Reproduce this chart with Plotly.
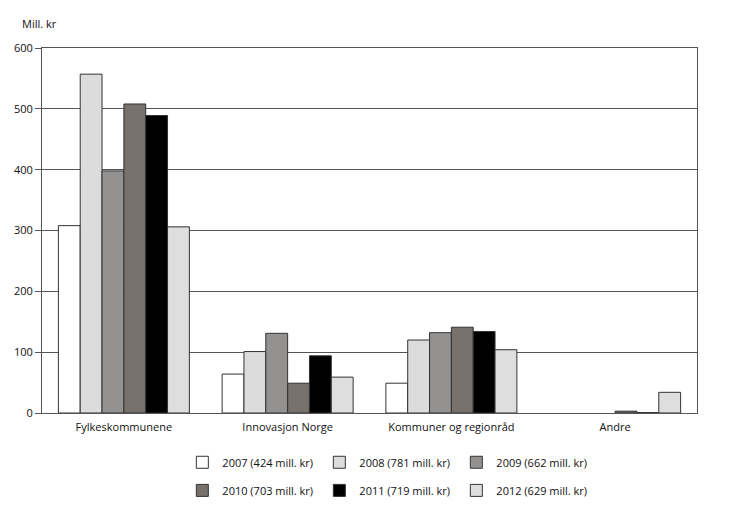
import plotly.graph_objects as go

categories = ["Fylkeskommunene", "Innovasjon Norge", "Kommuner og regionråd", "Andre"]

years = [
    "2007 (424 mill. kr)",
    "2008 (781 mill. kr)",
    "2009 (662 mill. kr)",
    "2010 (703 mill. kr)",
    "2011 (719 mill. kr)",
    "2012 (629 mill. kr)",
]

# None = no bar drawn for that category
v2007 = [308, 64, 49, None]
v2008 = [557, 101, 120, None]
v2009 = [398, 131, 132, None]
v2010 = [508, 49, 141, 3]
v2011 = [489, 94, 134, 0.6]
v2012 = [306, 59, 104, 34]

series = [v2007, v2008, v2009, v2010, v2011, v2012]
colors = ["#ffffff", "#dcdcdc", "#939291", "#76716d", "#000000", "#dedede"]
legend_ref = ["legend", "legend", "legend", "legend2", "legend2", "legend2"]

fig = go.Figure()
for name, vals, col, lg in zip(years, series, colors, legend_ref):
    fig.add_trace(
        go.Bar(
            x=categories,
            y=vals,
            name=name,
            marker=dict(color=col, line=dict(color="#333333", width=1)),
            legend=lg,
        )
    )

legend_style = dict(
    orientation="h",
    xanchor="center",
    x=0.528,
    yanchor="middle",
    entrywidth=92,
    entrywidthmode="pixels",
    font=dict(size=11, color="#111111"),
    bgcolor="rgba(0,0,0,0)",
)

# page body adds 8px, so the figure is a bit smaller than the window
fig.update_layout(
    width=722,
    height=510,
    margin=dict(l=34, r=33, t=40, b=105, autoexpand=False),
    paper_bgcolor="white",
    plot_bgcolor="white",
    font=dict(family="Open Sans", size=11, color="#111111"),
    barmode="group",
    bargap=0.2,
    bargroupgap=0,
    legend=dict(legend_style, y=-0.135),
    legend2=dict(legend_style, y=-0.212),
    annotations=[
        dict(
            text="Mill. kr",
            xref="paper",
            yref="paper",
            x=-0.033,
            y=1.042,
            xanchor="left",
            yanchor="bottom",
            showarrow=False,
            font=dict(size=11),
        )
    ],
)

fig.update_yaxes(
    range=[0, 600],
    dtick=100,
    showgrid=True,
    gridcolor="#555555",
    gridwidth=1,
    ticks="outside",
    ticklen=6,
    tickcolor="#555555",
    showline=True,
    linecolor="#555555",
    mirror=True,
    zeroline=False,
    automargin=False,
)
fig.update_xaxes(
    showline=True,
    linecolor="#555555",
    mirror=True,
    ticks="",
    ticklabelstandoff=4,
    automargin=False,
)

fig.write_html("out.html")
